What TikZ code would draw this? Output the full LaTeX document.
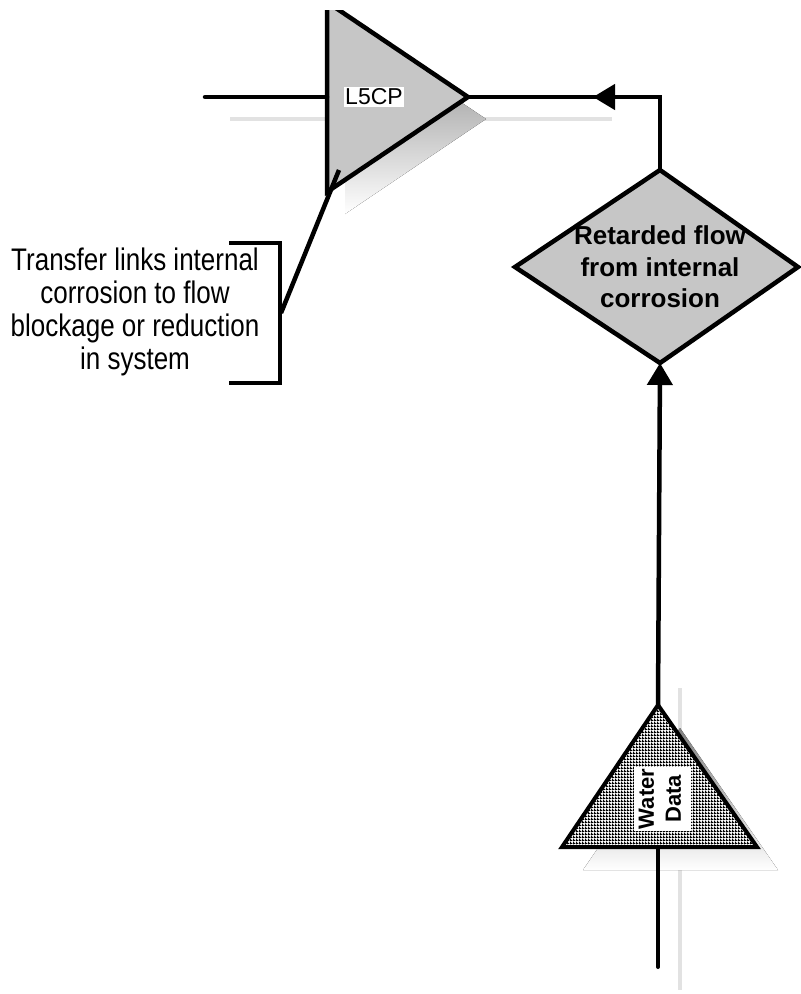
\documentclass[tikz,border=0pt]{standalone}
\usepackage{fontspec}
\setmainfont{Liberation Sans}
\usepackage{graphicx}
\usetikzlibrary{arrows.meta,patterns.meta}
\definecolor{stipple}{HTML}{C6C6C6}
\definecolor{shade}{HTML}{E2E2E2}

\tikzdeclarepattern{
  name=watergrid,
  type=uncolored,
  bottom left={(0pt,0pt)},
  top right={(3pt,3pt)},
  tile size={(3pt,3pt)},
  code={
    \fill (0pt,0pt) rectangle (3pt,1.5pt);
    \fill (0pt,0pt) rectangle (1.5pt,3pt);
  }
}

\begin{document}
\begin{tikzpicture}[x=1pt, y=-1pt,
    wire/.style={line width=4.5pt},
    shadowline/.style={draw=shade, line width=4pt},
    tip/.style={-{Triangle[length=22pt,width=25pt]}}]
    \useasboundingbox (0,0) rectangle (801,994);

    \coordinate (l5top) at (327,2);
    \coordinate (l5tip) at (468,97);
    \coordinate (l5foot) at (327,192);
    \coordinate (inlet) at (205,97);
    \coordinate (l5left) at (327,97);
    \coordinate (corner) at (660,97);
    \coordinate (arrowA) at (593,97);
    \coordinate (dtop) at (660,170);
    \coordinate (dright) at (798,267);
    \coordinate (dbottom) at (660,363);
    \coordinate (dleft) at (515,267);
    \coordinate (wapex) at (658,705);
    \coordinate (wright) at (757,847);
    \coordinate (wleft) at (562,847);
    \coordinate (wbase) at (658,847);
    \coordinate (wend) at (658,967);
    \coordinate (joint) at (281,313);
    \coordinate (stub) at (339,170);

    % shadows
    \begin{scope}
        \clip (0,10) rectangle (801,994);
        \draw[shadowline] (230,119) -- (612,119);
        \fill[shade] (345,24) -- (486,119) -- (345,214) -- cycle;
    \end{scope}
    \draw[shadowline] (680,688) -- (680,990);
    \fill[shade] (680,728) -- (778,870) -- (583,870) -- cycle;

    % L5CP gate
    \begin{scope}
        \clip (0,10) rectangle (801,994);
        \filldraw[wire, fill=stipple] (l5top) -- (l5tip) -- (l5foot) -- cycle;
    \end{scope}
    \draw[wire, line cap=round] (inlet) -- (l5left);
    \node[fill=white, inner sep=1.5pt, font=\fontsize{23}{27}\selectfont] (l5cp) at (374,97) {L5CP};

    % diamond
    \filldraw[wire, fill=stipple] (dtop) -- (dright) -- (dbottom) -- (dleft) -- cycle;
    \node[align=center, font=\bfseries\fontsize{26}{31.5}\selectfont] (flowtext) at (660,267)
        {Retarded flow\\from internal\\corrosion};
    \draw[wire] (dtop) -- (corner) -- (l5tip);
    \draw[wire, tip] (corner) -- (arrowA);

    % water data
    \fill[white] (wapex) -- (wright) -- (wleft) -- cycle;
    \filldraw[line width=4pt, pattern={watergrid}, pattern color=black] (wapex) -- (wright) -- (wleft) -- cycle;
    \node[rotate=90, fill=white, inner sep=1.5pt, font=\bfseries\fontsize{22}{27}\selectfont] (waterdata) at (662,799)
        {\begin{tabular}{@{}c@{}}Water\\Data\end{tabular}};
    \draw[line width=4pt, line cap=round] (wend) -- (wbase);
    \draw[wire, tip] (wapex) -- (dbottom);

    % transfer bracket
    \draw[wire] (229,243) -- (280,243) -- (280,383) -- (229,383);
    \draw[wire] (joint) -- (stub);
    \node (transfer) at (135,313) {\scalebox{1}[1.2]{\fontsize{26}{27.5}\selectfont
        \begin{tabular}{@{}c@{}}Transfer links internal\\corrosion to flow\\blockage or reduction\\in system\end{tabular}}};
\end{tikzpicture}
\end{document}
